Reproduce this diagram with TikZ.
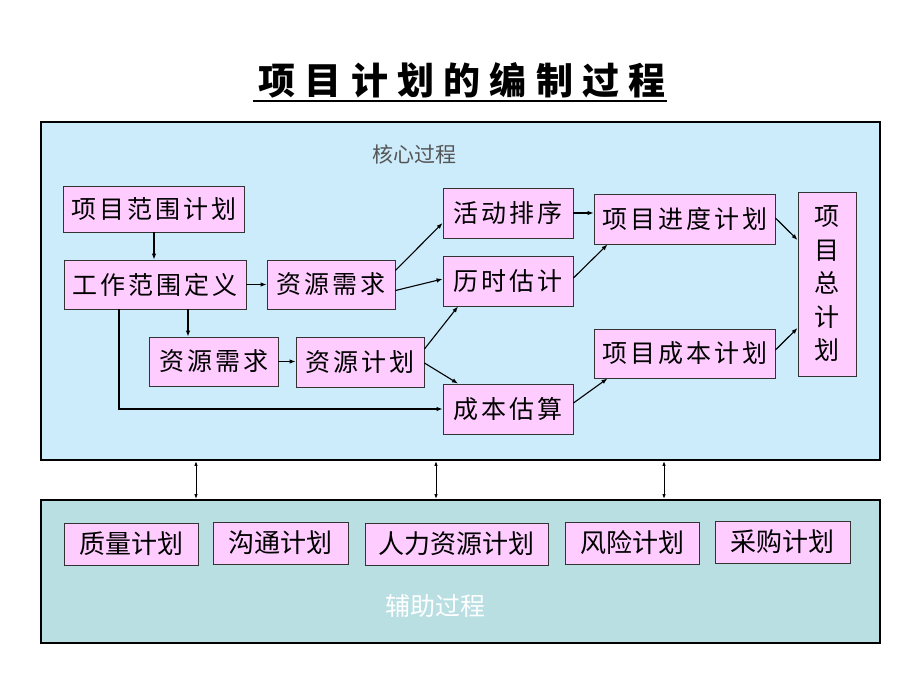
\documentclass[tikz,border=0pt]{standalone}
\usepackage{fontspec}
\newfontfamily\cjk{Noto Sans CJK SC}
\newfontfamily\cjksp[LetterSpace=12]{Noto Sans CJK SC}
\newfontfamily\cjktitle[LetterSpace=25]{Noto Sans CJK SC}
\usetikzlibrary{arrows.meta}
\definecolor{corebg}{HTML}{CCECFC}
\definecolor{auxbg}{HTML}{B9DFE2}
\definecolor{boxpink}{HTML}{FFCCFF}
\definecolor{boxline}{HTML}{333333}
\definecolor{labgray}{HTML}{555555}
\tikzset{
  pbox/.style={draw=boxline, line width=0.9pt, fill=boxpink, inner sep=0pt,
    font=\cjksp\fontsize{25}{30}\selectfont, text=black},
  area/.style={draw=black, line width=1.8pt, inner sep=0pt},
  arr/.style={-{Latex[length=6pt,width=4.5pt]}, line width=1.1pt, black},
  darr/.style={{Latex[length=5pt,width=3.5pt]}-{Latex[length=5pt,width=3.5pt]}, line width=1pt, black}
}
\begin{document}
\begin{tikzpicture}[x=1pt,y=-1pt]
\useasboundingbox (0,0) rectangle (920,690);
% title
\node[font=\cjktitle\bfseries\fontsize{37}{40}\selectfont] (title) at (462,80) {项目计划的编制过程};
\coordinate (ul1) at (253,101);
\coordinate (ul2) at (667,101);
\draw[line width=2pt] (ul1) -- (ul2);
% areas
\node[area, fill=corebg, minimum width=839pt, minimum height=338pt] (core) at (460.5,291) {};
\node[area, fill=auxbg, minimum width=839pt, minimum height=143pt] (aux) at (460.5,571.5) {};
\node[font=\cjk\fontsize{21}{24}\selectfont, text=labgray] (corelab) at (414,154) {核心过程};
\node[font=\cjk\fontsize{25}{28}\selectfont, text=white] (auxlab) at (435,606) {辅助过程};
% core nodes
\node[pbox, minimum width=181pt, minimum height=46pt] (n1) at (154,209) {项目范围计划};
\node[pbox, minimum width=182pt, minimum height=49pt] (n2) at (155,284.5) {工作范围定义};
\node[pbox, minimum width=128pt, minimum height=49pt] (n3) at (331,284.5) {资源需求};
\node[pbox, minimum width=129pt, minimum height=49pt] (n4) at (213.5,361.5) {资源需求};
\node[pbox, minimum width=128pt, minimum height=50pt] (n5) at (360,362) {资源计划};
\node[pbox, minimum width=130pt, minimum height=50pt] (n6) at (508,213) {活动排序};
\node[pbox, minimum width=130pt, minimum height=50pt] (n7) at (508,281) {历时估计};
\node[pbox, minimum width=130pt, minimum height=50pt] (n8) at (508,409) {成本估算};
\node[pbox, minimum width=181pt, minimum height=50pt] (n9) at (684.5,219) {项目进度计划};
\node[pbox, minimum width=181pt, minimum height=49pt] (n10) at (684.5,353.5) {项目成本计划};
\node[pbox, minimum width=58pt, minimum height=184pt, align=center,
  font=\cjk\fontsize{25}{33.5}\selectfont] (n11) at (827,284) {项\\目\\总\\计\\划};
% aux nodes
\node[pbox, minimum width=134pt, minimum height=42pt, font=\cjk\fontsize{26}{30}\selectfont] (b1) at (131,544) {质量计划};
\node[pbox, minimum width=135pt, minimum height=42pt, font=\cjk\fontsize{26}{30}\selectfont] (b2) at (280.5,543) {沟通计划};
\node[pbox, minimum width=183pt, minimum height=42pt, font=\cjk\fontsize{26}{30}\selectfont] (b3) at (456.5,544) {人力资源计划};
\node[pbox, minimum width=134pt, minimum height=42pt, font=\cjk\fontsize{26}{30}\selectfont] (b4) at (632.5,543) {风险计划};
\node[pbox, minimum width=135pt, minimum height=42pt, font=\cjk\fontsize{26}{30}\selectfont] (b5) at (782.5,542) {采购计划};
% connectors
\draw[arr] (n1.south) -- (n1.south |- n2.north);
\draw[arr] (n2.east) -- (n3.west);
\draw[arr] ([xshift=33pt]n2.south) -- ([xshift=33pt]n2.south |- n4.north);
\draw[arr] ([xshift=-36pt]n2.south) |- (n8.west);
\draw[arr] (n4.east) -- (n4.east -| n5.west);
\draw[arr] ([yshift=14pt]n3.east) -- ([yshift=-10pt]n6.west);
\draw[arr] ([yshift=-6pt]n3.east) -- ([yshift=2pt]n7.west);
\draw[arr] ([yshift=13pt]n5.east) -- ([xshift=-50pt]n7.south);
\draw[arr] ([yshift=-1pt]n5.east) -- ([xshift=-50pt]n8.north);
\draw[arr] (n6.east) -- (n6.east -| n9.west);
\draw[arr] ([yshift=3pt]n7.east) -- ([xshift=-77pt]n9.south);
\draw[arr] ([yshift=6pt]n8.east) -- ([xshift=-77pt]n10.south);
\draw[arr] ([yshift=1pt]n9.east) -- ([yshift=44pt]n11.west);
\draw[arr] ([yshift=3.5pt]n10.east) -- ([yshift=-44pt]n11.west);
% links between areas
\coordinate (k1) at (196,0);
\coordinate (k2) at (436,0);
\coordinate (k3) at (664,0);
\draw[darr] (core.south -| k1) -- (aux.north -| k1);
\draw[darr] (core.south -| k2) -- (aux.north -| k2);
\draw[darr] (core.south -| k3) -- (aux.north -| k3);
\end{tikzpicture}
\end{document}
